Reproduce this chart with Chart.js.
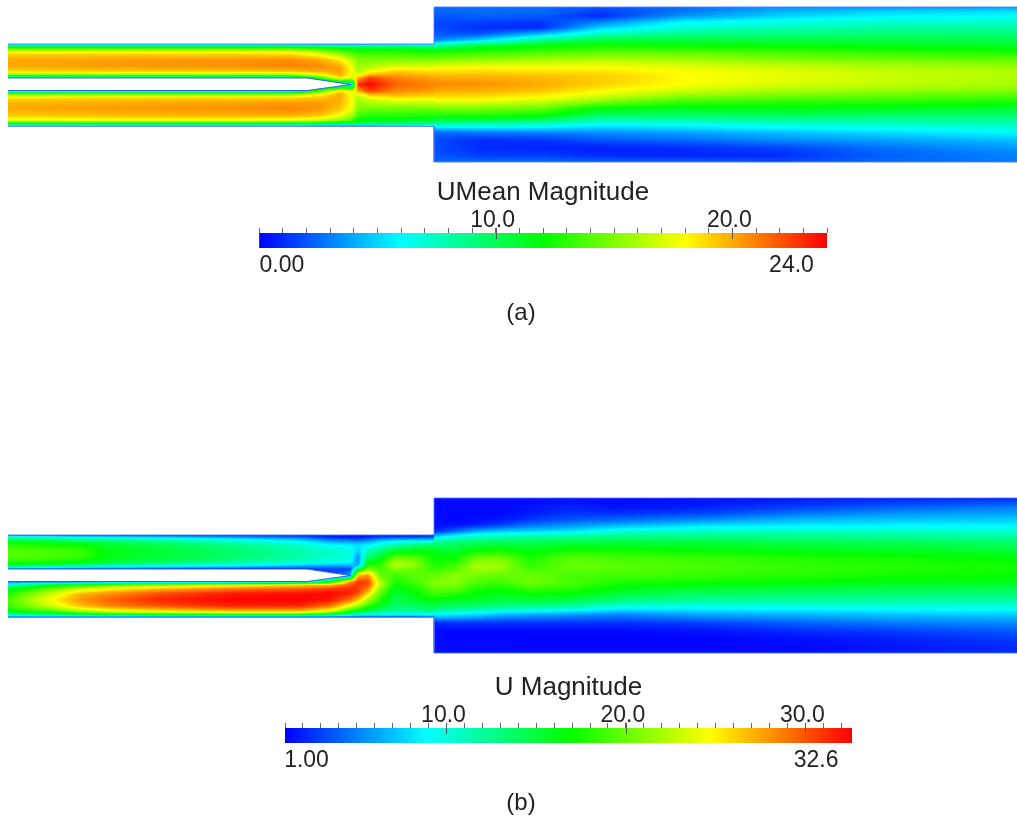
<!DOCTYPE html>
<html>
<head>
<meta charset="utf-8">
<title>UMean and U magnitude</title>
<script src="https://cdn.jsdelivr.net/npm/chart.js@4/dist/chart.umd.js"></script>
<style>
  html, body { margin: 0; padding: 0; background: #fff; }
  body { position: relative; width: 1017px; height: 816px; overflow: hidden; }
  canvas { position: absolute; left: 0; }
  .cap { position: absolute; font: 24px "Liberation Sans", sans-serif; color: #222; transform: translateX(-50%); }
</style>
</head>
<body>
<canvas id="fieldA" width="1017" height="175" style="top:0"></canvas>
<canvas id="legendA" width="1017" height="125" style="top:175px"></canvas>
<div class="cap" style="left:521px;top:298px">(a)</div>
<canvas id="fieldB" width="1017" height="175" style="top:491px"></canvas>
<canvas id="legendB" width="1017" height="125" style="top:670px"></canvas>
<div class="cap" style="left:521px;top:788px">(b)</div>
<script>
// stations along the channel and across it (shared by both panels)
const inletY = [44, 45, 47, 50, 54, 60, 66, 71, 75, 78, 84.5, 91, 94, 98, 103, 109, 115, 120, 123, 125, 126];
const bodyY = [7, 10, 16, 22, 28, 34, 40, 46, 52, 60, 68, 76, 84, 92, 100, 108, 116, 124, 132, 140, 148, 156, 162];

const wallTopX = [8, 434, 434, 1017];
const wallTopY = [44, 44, 7, 7];
const wallBottomX = [8, 434, 434, 1017];
const wallBottomY = [126.5, 126.5, 162, 162];
const plateX = [8, 307, 351, 307, 8];
const plateY = [78, 78, 84.5, 90.5, 90.5];

// (a) UMean magnitude, one profile per station
const meanInletX = [8, 120, 230, 290, 320, 340, 352, 358, 370, 395, 434];
const meanInlet = [
    [3, 8, 11.5, 16, 19, 20, 20, 19, 14.5, 5, 4, 5, 14.5, 18.7, 19.8, 20, 19.3, 17.5, 13, 7, 4],
    [3, 8, 11.5, 16, 19, 20.3, 20.4, 19.3, 15, 5, 4, 5, 15, 19, 20, 20.3, 19.7, 18, 13, 7, 4],
    [3, 8, 11.5, 16, 19, 20.5, 20.6, 19.4, 15, 5, 4, 5, 15, 19, 20.2, 20.5, 19.9, 18, 13, 7, 4],
    [3, 7.5, 11.5, 16, 18.8, 20.7, 20.9, 19.7, 15, 6, 4, 6, 15, 19, 20.4, 20.8, 20, 17.7, 12.5, 7, 4],
    [3, 6.5, 11, 14.5, 17.5, 20, 20.7, 20, 17.5, 13, 4, 14, 17.5, 19.5, 20.3, 20.5, 19.5, 17, 12, 6.5, 3],
    [3, 6.5, 10.5, 13, 15.5, 18.5, 20, 20.2, 20, 18.5, 6, 18.5, 20, 20, 19.8, 19.3, 18, 15.5, 11, 6, 3],
    [3, 6.5, 10.5, 12.5, 14, 16.5, 17.5, 18, 17.5, 17, 6, 17, 17.5, 18, 18, 17.5, 16, 14, 11, 6, 3],
    [3, 6.5, 10.5, 12, 13.5, 15, 15.5, 16, 17.5, 20, 23, 20, 17.5, 16, 15.5, 15, 13.5, 12, 10.5, 6.5, 3],
    [3, 7, 10.5, 12, 13.5, 15, 16, 17.5, 20, 22.5, 24, 22.5, 20, 17.5, 16, 14.5, 13, 11.5, 10, 6.5, 3],
    [4, 7, 10.5, 12, 13.5, 15, 17, 19, 20.2, 21, 21.7, 20.8, 20, 18.5, 16.5, 14.5, 13, 11.5, 10, 7, 4],
    [5, 6.5, 10, 11.5, 13, 15, 17, 18.7, 19.5, 20.2, 20.9, 20.3, 19.5, 18.3, 16.5, 14.5, 12.8, 11, 9, 7, 5]
];
const meanBodyX = [434, 480, 540, 600, 680, 780, 880, 1017];
const meanBody = [
    [2.6, 2.4, 2, 1.8, 1.8, 2, 3, 8.4, 12.8, 15, 18, 19.7, 20.9, 19.8, 18, 15, 12.5, 8, 2.5, 1.8, 1.8, 2, 2.6],
    [2.6, 2.6, 2.3, 1.5, 1, 2, 5, 11, 13, 15.5, 18.2, 19.7, 20.6, 19.7, 18, 15, 12.5, 8, 3, 1, 1, 1.5, 2.6],
    [2.6, 2.6, 2.2, 1.2, 1, 4.5, 8.5, 12, 13.5, 16, 18, 19.5, 20, 19.2, 17.3, 14.5, 12, 7.5, 3.3, 1.2, 0.8, 1.5, 2.6],
    [2.3, 1.5, 1, 3, 5, 7.5, 10.5, 12.5, 14, 16.3, 18.1, 19.2, 19.1, 18, 15.8, 12, 9.5, 6.2, 3.5, 2, 0.7, 1, 2.5],
    [3, 2.5, 3.5, 5.8, 7, 8.8, 10.5, 12.2, 14, 16, 17.6, 18.1, 18, 16.6, 14, 11.5, 9.5, 6.3, 4, 2.5, 1, 0.8, 2.5],
    [3.5, 4, 5, 6.5, 7.8, 9, 10.5, 12, 13.5, 15.2, 17, 17.5, 17.2, 15.7, 13.5, 11.7, 9.7, 7, 4.7, 3.3, 1.5, 1, 2],
    [3.5, 4.5, 5.8, 7, 8.2, 9.3, 10.5, 11.6, 13, 14.8, 16.3, 16.8, 16.6, 15.2, 13.4, 11.4, 9.5, 7.3, 5.3, 3.8, 2.6, 2.2, 2.5],
    [3.5, 5, 6, 7.2, 8.3, 9.3, 10.3, 11.2, 12.5, 14.3, 15.8, 16.2, 16, 14.8, 12.8, 11, 9.3, 7.6, 6, 4.6, 3.6, 3, 3]
];

// (b) U magnitude, one profile per station
const instInletX = [8, 50, 80, 110, 160, 230, 300, 330, 350, 358, 368, 380, 395, 415, 434];
const instInlet = [
    [3, 8, 12.5, 15.5, 18, 19.4, 19.4, 18, 14, 6, 5, 5, 11, 15.5, 18, 19, 18.5, 16.5, 13, 8, 4],
    [3, 7, 11.5, 15, 17.5, 19, 19, 17.5, 13, 5, 5, 5, 16, 20, 23, 24.5, 23, 19, 14, 9, 4],
    [2.5, 6, 10.5, 14, 17, 18.5, 18.5, 16.5, 12, 4, 5, 5, 18, 23, 27, 28, 26.5, 22, 16.5, 9, 4],
    [2.5, 5.5, 10, 13.5, 15.5, 16.2, 16.2, 15, 11, 4, 5, 6, 20, 25, 28.5, 29.5, 28.5, 24, 18, 9, 4],
    [2, 5, 9, 12.5, 14.5, 15.2, 15.2, 14, 10, 3, 5, 6, 22, 27, 30.5, 31.5, 30, 25.5, 19, 9, 4],
    [1.5, 4, 7.5, 10.5, 12.7, 13.6, 13.6, 12.3, 8.5, 2.5, 5, 7, 24, 29, 32, 32.5, 31.5, 27, 20, 9, 4],
    [1.3, 2.5, 5.5, 8.5, 10.5, 11.5, 11.5, 10.5, 6.5, 2.5, 5, 10, 26, 30, 32.3, 32.6, 31.5, 27, 20, 9, 4],
    [1.2, 1.8, 3, 6, 9, 10.5, 10.5, 9.5, 6, 3, 3, 16, 27, 31, 32.5, 32, 29, 24, 17, 8.5, 3.5],
    [1.2, 1.5, 2.5, 5.5, 8.5, 9.8, 10, 9, 6, 3, 6, 28, 30, 31.5, 31.5, 29, 24, 18, 13, 7, 3],
    [1.2, 1.5, 2.5, 5, 8, 7.5, 5.5, 5.5, 7, 14, 27, 31, 31, 31, 30, 26.5, 21.5, 16, 11.5, 6.5, 3],
    [1.2, 1.5, 3, 6, 8.5, 11, 13.5, 16, 18, 21, 28, 30.5, 30, 28.5, 25.5, 22, 18, 14.5, 11, 6.5, 3],
    [1.2, 2, 4, 7.5, 10, 13, 15.5, 17.5, 18.3, 18.5, 20, 22.5, 22.5, 21, 19.5, 18, 16, 13, 10, 6.5, 3],
    [1.2, 2, 4.5, 8.5, 11.5, 15.5, 19.5, 22, 22.2, 21, 18.5, 17.5, 17, 16, 15, 14.5, 13.5, 12, 10, 6.5, 3],
    [1.2, 2, 4.5, 9, 13, 16.5, 19, 21, 21, 20, 19.5, 19, 18, 17.5, 16.5, 15.5, 14, 12, 10, 6.5, 3],
    [1.5, 2.5, 5, 9, 14, 16, 17, 17.3, 17.8, 18.5, 19.8, 20.7, 20.7, 19.5, 18.5, 17, 14.5, 13, 10, 7, 3.5]
];
const instBodyX = [434, 455, 475, 500, 530, 570, 620, 700, 800, 900, 1017];
const instBody = [
    [1.5, 1.3, 1.3, 1.3, 1.3, 1.3, 2, 8, 13, 16, 17, 17.8, 19.8, 20.8, 19.3, 17, 14.2, 8.5, 2, 1.3, 1.3, 1.3, 1.5],
    [1.5, 1.2, 1.2, 1.2, 1.2, 1.5, 4, 10, 13.5, 15.5, 17, 19, 21, 21, 19, 16, 13.5, 8, 2.5, 1.2, 1.2, 1.2, 1.5],
    [1.5, 1.2, 1.2, 1.2, 1.3, 2, 6, 11, 14, 17, 20.5, 22, 20.5, 19, 17.2, 15.8, 13, 7.5, 2.5, 1.2, 1.2, 1.2, 1.5],
    [1.5, 1.2, 1.2, 1.2, 1.5, 3, 7, 11.5, 14.5, 17.5, 20.7, 21.7, 20, 18.5, 16.5, 15, 12.5, 6.5, 2.5, 1.2, 1.2, 1.2, 1.5],
    [1.5, 1.3, 1.5, 1.8, 2.5, 4.5, 7.5, 12, 14.5, 16.3, 17.6, 18.4, 20, 20.2, 17.8, 15.5, 12, 6, 2.5, 1.2, 1.1, 1.1, 1.5],
    [1.5, 1.5, 2, 2.5, 3.5, 5.5, 8, 12.5, 15, 17.5, 19.7, 20, 19, 19, 17.5, 15.2, 11.5, 5.5, 2.5, 1.2, 1.1, 1.1, 1.5],
    [1.3, 1.3, 1.5, 2.5, 4, 6.5, 9.8, 13, 15, 17.5, 19, 19.5, 19, 17.5, 15.7, 13.5, 9.5, 5, 2.5, 1.2, 1.1, 1.1, 1.5],
    [1.3, 1.5, 2, 3, 5, 7.8, 10.5, 13, 15, 16.8, 18.7, 19, 18.5, 17, 14.7, 12.5, 9.3, 6, 3, 1.5, 1.1, 1.1, 1.5],
    [1.5, 2, 3, 4.5, 6.5, 8.3, 10.5, 12.8, 14.7, 16.3, 18, 18.3, 18, 16.5, 14.3, 12.3, 9.5, 6.5, 4, 2.3, 1.4, 1.2, 1.5],
    [1.8, 2.5, 4, 5.5, 7, 8.5, 10.5, 12.5, 14.3, 15.8, 17.5, 17.8, 17.4, 16, 14, 12.2, 9.7, 7, 4.8, 3, 2, 1.7, 2],
    [2, 3, 4.8, 6, 7.2, 8.5, 10.2, 12, 13.7, 15.2, 16.8, 17.2, 17, 15.8, 13.7, 12, 9.8, 7.3, 5.3, 3.8, 2.8, 2.3, 2.3]
];

// colour bars
const rainbow = ["#0000ff", "#00ffff", "#00ff00", "#ffff00", "#ff0000"];
const meanRange = [0, 24];
const meanTicks = [10, 20];
const meanEndLabels = ["0.00", "24.0"];
const meanEndLabelAt = [0.97, 22.5];
const instRange = [1, 32.6];
const instTicks = [10, 20, 30];
const instEndLabels = ["1.00", "32.6"];
const instEndLabelAt = [2.2, 30.6];

const titleFont = { family: "'Liberation Sans', sans-serif", size: 26 };
const tickFont = { family: "'Liberation Sans', sans-serif", size: 23 };

function hsvColor(t) {
    // blue to red through the hue circle, same as the rainbow stops
    t = Math.max(0, Math.min(1, t));
    const h = (1 - t) * 4;
    const i = Math.floor(h);
    const f = h - i;
    if (i >= 4) return [0, 0, 255];
    if (i === 3) return [0, 255 * (1 - f), 255];
    if (i === 2) return [0, 255, 255 * f];
    if (i === 1) return [255 * (1 - f), 255, 0];
    return [255, 255 * f, 0];
}

function findCell(stations, v) {
    let i = 0;
    while (i < stations.length - 2 && v > stations[i + 1]) i++;
    const f = (v - stations[i]) / (stations[i + 1] - stations[i]);
    return [i, Math.max(0, Math.min(1, f))];
}

// paints the sampled profiles through the chart's scales, like a shaded mesh
const fieldPlugin = {
    id: "field",
    beforeDatasetsDraw(chart, args, opts) {
        const ctx = chart.ctx;
        const sx = chart.scales.x;
        const sy = chart.scales.y;
        opts.blocks.forEach(block => {
            const left = Math.round(sx.getPixelForValue(block.xs[0]));
            const right = Math.round(sx.getPixelForValue(block.xs[block.xs.length - 1]));
            const top = Math.round(sy.getPixelForValue(block.ys[0]));
            const bottom = Math.round(sy.getPixelForValue(block.ys[block.ys.length - 1]));
            const w = right - left;
            const h = bottom - top;
            const image = new ImageData(w, h);
            for (let py = 0; py < h; py++) {
                const [j, fy] = findCell(block.ys, sy.getValueForPixel(top + py + 0.5));
                for (let px = 0; px < w; px++) {
                    const [i, fx] = findCell(block.xs, sx.getValueForPixel(left + px + 0.5));
                    const a = block.values[i][j] * (1 - fy) + block.values[i][j + 1] * fy;
                    const b = block.values[i + 1][j] * (1 - fy) + block.values[i + 1][j + 1] * fy;
                    const v = a * (1 - fx) + b * fx;
                    const rgb = hsvColor((v - opts.range[0]) / (opts.range[1] - opts.range[0]));
                    const k = (py * w + px) * 4;
                    image.data[k] = rgb[0];
                    image.data[k + 1] = rgb[1];
                    image.data[k + 2] = rgb[2];
                    image.data[k + 3] = 255;
                }
            }
            ctx.putImageData(image, left, top);
        });
        // the splitter plate is solid, so nothing is shown inside it
        ctx.fillStyle = "#ffffff";
        ctx.beginPath();
        plateX.forEach((x, i) => ctx.lineTo(sx.getPixelForValue(x), sy.getPixelForValue(plateY[i])));
        ctx.closePath();
        ctx.fill();
    }
};

function points(xs, ys) {
    return xs.map((x, i) => ({ x: x, y: ys[i] }));
}

function drawField(id, range, inletX, inlet, bodyX, body) {
    new Chart(document.getElementById(id), {
        type: "scatter",
        data: {
            datasets: [
                { data: points(wallTopX, wallTopY), showLine: true, borderColor: "rgba(70,120,255,0.85)", borderWidth: 1, pointRadius: 0 },
                { data: points(wallBottomX, wallBottomY), showLine: true, borderColor: "rgba(70,120,255,0.85)", borderWidth: 1, pointRadius: 0 },
                { data: points(plateX, plateY), showLine: true, borderColor: "rgba(30,80,255,0.9)", borderWidth: 1, pointRadius: 0 }
            ]
        },
        options: {
            responsive: false,
            animation: false,
            devicePixelRatio: 1,
            layout: { padding: 0 },
            scales: {
                x: { type: "linear", display: false, min: 0, max: 1017 },
                y: { type: "linear", display: false, min: 0, max: 175, reverse: true }
            },
            plugins: {
                legend: { display: false },
                tooltip: { enabled: false },
                field: {
                    range: range,
                    blocks: [
                        { xs: inletX, ys: inletY, values: inlet },
                        { xs: bodyX, ys: bodyY, values: body }
                    ]
                }
            }
        },
        plugins: [fieldPlugin]
    });
}

// the labelled ticks run a little way into the colour bar
const majorTickPlugin = {
    id: "majorTicks",
    afterDatasetsDraw(chart, args, opts) {
        const ctx = chart.ctx;
        ctx.strokeStyle = "#555";
        ctx.lineWidth = 1;
        opts.values.forEach(v => {
            const x = Math.round(chart.scales.x.getPixelForValue(v)) + 0.5;
            ctx.beginPath();
            ctx.moveTo(x, chart.chartArea.top - 5);
            ctx.lineTo(x, chart.chartArea.top + 6);
            ctx.stroke();
        });
    }
};

function drawLegend(id, title, range, major, endLabels, endLabelAt, padLeft, padRight) {
    const unitTicks = [];
    for (let v = Math.ceil(range[0]); v <= range[1]; v++) unitTicks.push({ value: v });
    new Chart(document.getElementById(id), {
        type: "bar",
        data: {
            labels: [title],
            datasets: [{
                data: [range],
                barPercentage: 1,
                categoryPercentage: 1,
                backgroundColor(c) {
                    const area = c.chart.chartArea;
                    if (!area) return rainbow[0];
                    const g = c.chart.ctx.createLinearGradient(area.left, 0, area.right, 0);
                    rainbow.forEach((col, i) => g.addColorStop(i / (rainbow.length - 1), col));
                    return g;
                }
            }]
        },
        options: {
            indexAxis: "y",
            responsive: false,
            animation: false,
            devicePixelRatio: 1,
            layout: { padding: { left: padLeft, right: padRight } },
            scales: {
                y: { display: false },
                x: {
                    type: "linear",
                    position: "top",
                    min: range[0],
                    max: range[1],
                    afterBuildTicks: scale => { scale.ticks = unitTicks.map(t => ({ value: t.value })); },
                    afterFit: scale => { scale.height = 58; },
                    border: { display: false },
                    grid: { drawOnChartArea: false, tickLength: 5, tickColor: "#666" },
                    ticks: {
                        autoSkip: false,
                        maxRotation: 0,
                        padding: -6,
                        labelOffset: -3,
                        color: "#222",
                        font: tickFont,
                        callback: v => (major.includes(v) ? v.toFixed(1) : "")
                    },
                    title: { display: true, text: title, color: "#222", font: titleFont, padding: { top: 2, bottom: 0 } }
                },
                x2: {
                    type: "linear",
                    position: "bottom",
                    min: range[0],
                    max: range[1],
                    afterBuildTicks: scale => { scale.ticks = endLabelAt.map(v => ({ value: v })); },
                    afterFit: scale => { scale.height = 52; },
                    border: { display: false },
                    grid: { display: false },
                    ticks: {
                        autoSkip: false,
                        maxRotation: 0,
                        padding: -4,
                        color: "#222",
                        font: tickFont,
                        callback: (v, i) => endLabels[i]
                    }
                }
            },
            plugins: {
                legend: { display: false },
                tooltip: { enabled: false },
                majorTicks: { values: major }
            }
        },
        plugins: [majorTickPlugin]
    });
}

drawField("fieldA", meanRange, meanInletX, meanInlet, meanBodyX, meanBody);
drawLegend("legendA", "UMean Magnitude", meanRange, meanTicks, meanEndLabels, meanEndLabelAt, 259, 190);
drawField("fieldB", instRange, instInletX, instInlet, instBodyX, instBody);
drawLegend("legendB", "U Magnitude", instRange, instTicks, instEndLabels, instEndLabelAt, 285, 165);
</script>
</body>
</html>
